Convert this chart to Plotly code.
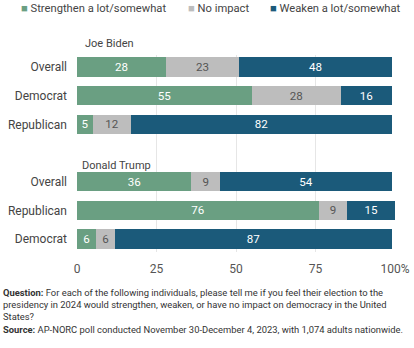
import plotly.graph_objects as go

rows = ["Overall", "Democrat", "Republican", "Overall", "Republican", "Democrat"]
row_pos = [0, 1, 2, 4, 5, 6]
strengthen = [28, 55, 5, 36, 76, 6]
no_impact = [23, 28, 12, 9, 9, 6]
weaken = [48, 16, 82, 54, 15, 87]
series_names = ["Strengthen a lot/somewhat", "No impact", "Weaken a lot/somewhat"]
group_labels = ["Joe Biden", "Donald Trump"]
x_ticks = [0, 25, 50, 75, 100]
x_ticktext = ["0", "25", "50", "75", "100%"]

colors = ["#6a9f82", "#bdbdbd", "#1b5a7a"]
text_colors = ["#ffffff", "#555555", "#ffffff"]
FONT = "Roboto, Arial, sans-serif"

L, R, T, B = 77, 19, 55, 96
W, H = 414, 348
PW, PH = W - L - R, H - T - B


def px_x(px):
    return (px - L) / PW


def px_y(py):
    return (H - B - py) / PH


fig = go.Figure()
for name, vals, c, tc in zip(series_names, [strengthen, no_impact, weaken], colors, text_colors):
    fig.add_trace(go.Bar(
        name=name, y=row_pos, x=vals, orientation="h",
        marker=dict(color=c, line=dict(width=0)),
        text=[str(v) for v in vals], textposition="inside",
        insidetextanchor="middle", textangle=0,
        insidetextfont=dict(color=tc, size=12, family=FONT),
        width=0.68, showlegend=False, hoverinfo="skip",
    ))

fig.update_layout(
    barmode="stack",
    width=W, height=H,
    margin=dict(l=L, r=R, t=T, b=B, autoexpand=False),
    paper_bgcolor="white", plot_bgcolor="white",
    font=dict(family=FONT, color="#444444", size=12),
    xaxis=dict(range=[0, 100], tickvals=x_ticks, ticktext=x_ticktext,
               showgrid=True, gridcolor="#e6e6e6", gridwidth=1, automargin=False,
               zeroline=False, showline=False, ticks="",
               tickfont=dict(size=12, color="#555555"), ticklabelstandoff=8),
    yaxis=dict(range=[6.45, -0.42], tickvals=row_pos, ticktext=rows, automargin=False,
               showgrid=False, zeroline=False, showline=False, ticks="",
               tickfont=dict(size=12, color="#444444"), ticklabelstandoff=9),
)

# group labels
fig.add_annotation(x=px_x(83), y=px_y(44), xref="paper", yref="paper", text=group_labels[0],
                   showarrow=False, xanchor="left", yanchor="middle",
                   font=dict(size=11, color="#444444", family=FONT))
fig.add_annotation(x=px_x(80), y=px_y(165), xref="paper", yref="paper", text=group_labels[1],
                   showarrow=False, xanchor="left", yanchor="middle",
                   font=dict(size=11, color="#444444", family=FONT))

# legend as annotations
leg_x = [19, 186, 268]
for name, c, lx in zip(series_names, colors, leg_x):
    fig.add_annotation(x=px_x(lx), y=px_y(9), xref="paper", yref="paper",
                       text=f"<span style='color:{c}'>■</span> {name}",
                       showarrow=False, xanchor="left", yanchor="middle",
                       font=dict(size=11.2, color="#444444", family=FONT))

# footnote
foot = ("<b>Question:</b> For each of the following individuals, please tell me if you feel their election to the<br>"
        "presidency in 2024 would strengthen, weaken, or have no impact on democracy in the United<br>"
        "States?<br>"
        "<b>Source:</b> AP-NORC poll conducted November 30-December 4, 2023, with 1,074 adults nationwide.")
fig.add_annotation(x=px_x(1), y=px_y(285), xref="paper", yref="paper", text=foot,
                   showarrow=False, xanchor="left", yanchor="top", align="left",
                   font=dict(size=9.4, color="#333333", family=FONT))

fig.write_html("out.html")
